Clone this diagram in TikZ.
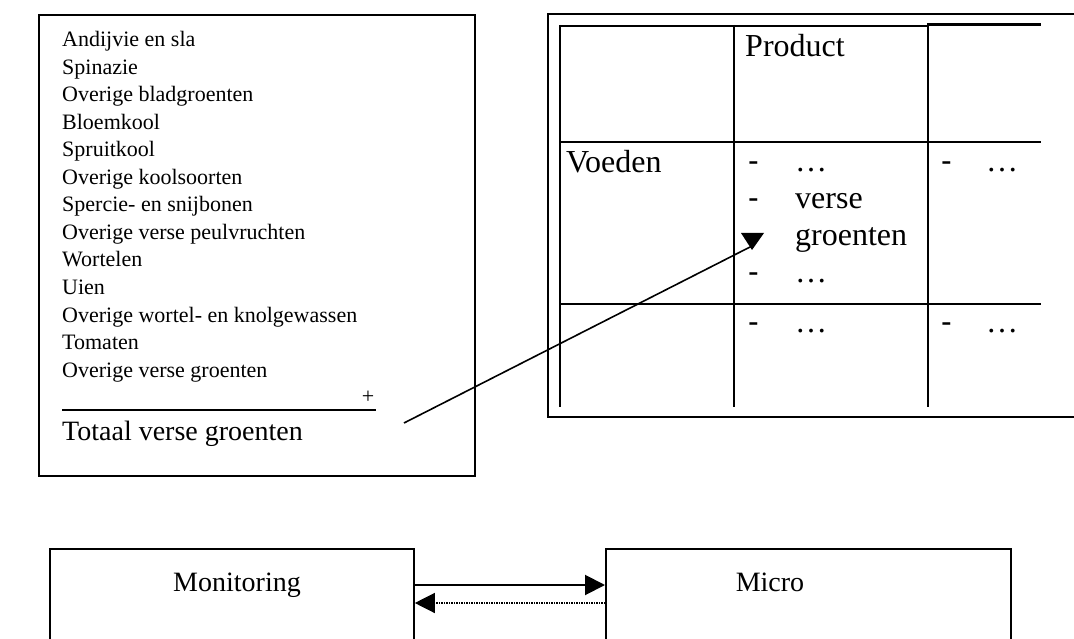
\documentclass[tikz,border=0pt]{standalone}
\usepackage{fontspec}
\setmainfont{Liberation Serif}
\newfontfamily\dashfont{Liberation Sans}
\usetikzlibrary{arrows.meta}
\begin{document}
\begin{tikzpicture}[x=1pt,y=-1pt,
  small/.style={font=\fontsize{22}{27.5}\selectfont, inner sep=0pt, anchor=base west},
  mid/.style={font=\fontsize{28}{32}\selectfont, inner sep=0pt, anchor=base west},
  big/.style={font=\fontsize{32}{36.8}\selectfont, inner sep=0pt, anchor=base west},
  frame/.style={draw, line width=1.8pt, inner sep=0pt, anchor=north west},
  grid/.style={line width=2.2pt},
  tip/.style={-{Triangle[length=20pt,width=20pt]}}]
\useasboundingbox (0,0) rectangle (1074,639);
\clip (0,0) rectangle (1074,639);

% list of vegetables
\node[frame, minimum width=436pt, minimum height=461pt] (list) at (38,14) {};
\foreach \t [count=\i] in {Andijvie en sla, Spinazie, Overige bladgroenten, Bloemkool,
  Spruitkool, Overige koolsoorten, Spercie- en snijbonen, Overige verse peulvruchten,
  Wortelen, Uien, Overige wortel- en knolgewassen, Tomaten, Overige verse groenten}
  \node[small] (item\i) at (62, {47+(\i-1)*27.5}) {\t};
\coordinate (sumL) at (62,410);
\coordinate (sumR) at (376,410);
\draw[line width=2pt] (sumL) -- (sumR);
\node[small, anchor=base] (plus) at (368,403) {+};
\node[mid] (total) at (62,440) {Totaal verse groenten};

% table
\draw[line width=1.5pt] (1090,14) -- (548,14) -- (548,417) -- (1090,417);
\draw[grid] (560,26) -- (928,26);
\draw[grid] (928,24.5) -- (1041,24.5);
\draw[grid] (560,142) -- (1041,142);
\draw[grid] (560,304) -- (1041,304);
\draw[grid] (560,25) -- (560,407);
\draw[grid] (734,25) -- (734,407);
\draw[grid] (928,23.5) -- (928,407);

\node[big] (prod) at (745,57) {Product};
\node[big] (voed) at (566,173) {Voeden};
\node[big] (d1) at (748,172) {\dashfont -};
\node[big] (e1) at (795,172) {…};
\node[big] (d2) at (748,209) {\dashfont -};
\node[big] (verse) at (795,209) {verse};
\node[big] (groen) at (795,246) {groenten};
\node[big] (d3) at (748,283) {\dashfont -};
\node[big] (e3) at (795,283) {…};
\node[big] (d4) at (941,172) {\dashfont -};
\node[big] (e4) at (986,172) {…};
\node[big] (d5) at (748,332) {\dashfont -};
\node[big] (e5) at (795,332) {…};
\node[big] (d6) at (941,332) {\dashfont -};
\node[big] (e6) at (986,332) {…};

% link from the total to the table entry
\coordinate (src) at (404,423);
\coordinate (dst) at (752,246);
\draw[line width=1.6pt] (src) -- (dst);
\fill (741,233) -- (764,233) -- (752,250) -- cycle;

% bottom boxes
\node[frame, minimum width=364pt, minimum height=120pt] (mon) at (49,548) {};
\node[frame, minimum width=405pt, minimum height=120pt] (mic) at (605,548) {};
\node[mid, anchor=base] (monl) at (237,591) {Monitoring};
\node[mid, anchor=base] (micl) at (770,591) {Micro};
\coordinate (lvA) at (0,585);
\coordinate (lvB) at (0,603);
\draw[line width=2pt, tip] (mon.east |- lvA) -- (mic.west |- lvA);
\draw[line width=1.3pt, dash pattern=on 1.3pt off 1.2pt, tip] (mic.west |- lvB) -- (mon.east |- lvB);
\end{tikzpicture}
\end{document}
